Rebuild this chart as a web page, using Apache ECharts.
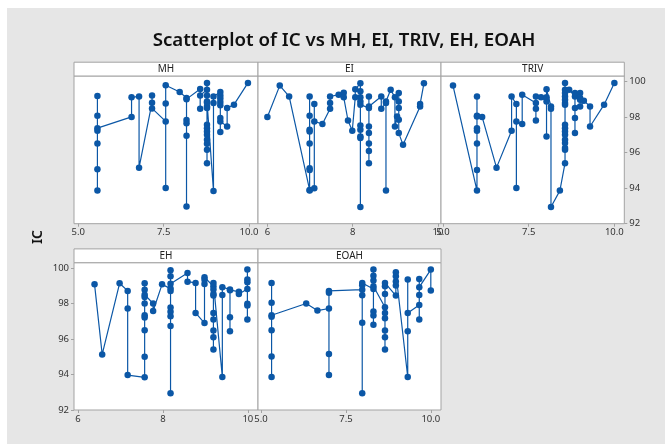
<!DOCTYPE html>
<html>
<head>
<meta charset="utf-8">
<script src="https://cdn.jsdelivr.net/npm/echarts@6/dist/echarts.min.js"></script>
<style>
  html, body { margin: 0; padding: 0; background: #fff; }
  #main { width: 665px; height: 444px; }
</style>
</head>
<body>
<div id="main"></div>
<script>
var chartDom = document.getElementById('main');
var myChart = echarts.init(chartDom);
var option;

// data, in the order the lines connect them
const mhX = [5.56,5.56,5.56,5.56,5.56,5.56,5.56, 6.56,6.56, 6.78,6.78, 7.16,7.16,7.16, 7.56,7.56,7.56,7.56, 7.97,
  8.17,8.17,8.17,8.17,8.17,8.17, 8.57,8.57,8.57,
  8.77,8.77,8.77,8.77,8.77,8.77,8.77,8.77,8.77,8.77,8.77,8.77,8.77,8.77,8.77,
  8.96,8.96,8.96, 9.16,9.16,9.16,9.16,9.16,9.16,9.16,9.16, 9.36,9.36, 9.56, 9.97];
const mhIC = [99.17,98.06,97.22,96.51,95.06,93.86,97.37, 98.0,99.1, 99.15,95.15, 98.8,99.2,98.48, 97.75,94.0,98.75,99.78, 99.4,
  99.07,92.96,96.94,97.64,97.83,99.0, 99.57,98.46,99.21,
  99.53,99.91,99.21,98.59,98.5,97.56,97.37,97.18,97.0,96.72,96.49,96.15,95.4,98.87,98.8,
  93.84,98.78,99.15, 99.4,99.21,99.03,98.84,98.65,97.15,97.94,97.75, 97.46,98.5, 98.69, 99.91];

const eiX = [6.0, 6.29, 6.51, 6.99,6.99,6.99,6.99,6.99,6.99,6.99,6.99,6.99, 7.1,7.1,7.1, 7.29, 7.47,7.47,7.47,
  7.67, 7.79,7.79, 7.89, 7.99, 8.06,8.06, 8.18,8.18,8.18,8.18,8.18,8.18,8.18,8.18,8.18,8.18,
  8.38,8.38,8.38,8.38,8.38,8.38,8.38,8.38, 8.67,8.67, 8.78,8.78,8.78, 8.89, 8.99,8.99, 9.04,
  9.08,9.08,9.08,9.08,9.08, 9.18, 9.58,9.58, 9.67];
const eiIC = [98.0, 99.76, 99.15, 93.9,99.15,98.07,97.28,97.18,96.51,95.12,95.02,93.86, 93.99,98.72,97.75, 97.6, 98.46,98.78,99.15,
  99.25, 99.36,99.1, 97.8, 97.22, 99.1,99.55, 99.89,99.44,99.1,98.87,97.52,97.28,96.9,96.81,92.94,98.69,
  98.5,97.46,97.09,96.51,96.09,95.4,99.15,98.59, 99.15,98.46, 98.78,93.86,98.87, 99.53, 99.1,97.46, 98.03,
  97.84,99.34,98.87,98.5,97.09, 96.43, 98.59,98.72, 99.89];

const trivX = [5.29, 5.99,5.99,5.99,5.99,5.99,5.99,5.99,5.99, 6.14, 6.56, 7.0,7.0, 7.14,7.14,7.14, 7.31,7.31,
  7.71,7.71,7.71,7.71, 7.86, 8.02,8.02,8.02,8.02, 8.15,8.15,8.15, 8.41,
  8.56,8.56,8.56,8.56,8.56,8.56,8.56,8.56,8.56,8.56,8.56,8.56,8.56,8.56,8.56,8.56,
  8.68, 8.85,8.85,8.85,8.85,8.85, 9.0,9.0,9.0,9.0, 9.11, 9.29,9.29, 9.7, 10.0];
const trivIC = [99.76, 93.86,99.15,98.07,97.37,97.22,96.51,95.02,98.03, 98.0, 95.15, 97.22,99.15, 98.72,94.0,97.75, 97.6,99.25,
  98.78,97.8,98.46,99.15, 99.1, 98.87,96.9,99.1,99.55, 98.59,98.46,92.94, 93.86,
  95.4,96.15,96.25,96.53,96.72,97.0,97.18,97.37,97.56,98.69,98.78,98.97,99.15,99.35,99.91,99.53,
  99.53, 99.15,98.5,97.94,97.09,99.35, 99.35,99.06,98.97,98.59, 98.91, 98.59,97.46, 98.69, 99.91];

const ehX = [6.39, 6.57, 6.98, 7.17,7.17,7.17, 7.57,7.57,7.57,7.57,7.57,7.57,7.57,7.57,7.57,7.57, 7.77,7.77, 7.98,
  8.18,8.18,8.18,8.18,8.18,8.18,8.18,8.18,8.18,8.18, 8.58,8.58, 8.77,8.77, 8.98,8.98,8.98,8.98,
  9.19,9.19,9.19,9.19,9.19,9.19,9.19,9.19,9.19,9.19, 9.4,9.4,9.4, 9.58,9.58,9.58,9.58, 9.79,9.79,
  9.99,9.99,9.99,9.99,9.99,9.99,9.99];
const ehIC = [99.08, 95.13, 99.14, 98.71,97.72,93.97, 93.84,95.0,96.5,97.21,97.34,98.0,98.37,99.14,98.78,98.5, 98.0,97.58, 99.08,
  98.84,92.94,96.74,97.28,97.53,97.77,98.71,99.53,99.87,99.12, 99.72,99.23, 99.16,97.47, 96.9,99.1,99.34,99.48,
  98.97,98.79,98.54,98.45,97.47,97.1,96.48,96.1,95.41,99.16, 93.86,98.48,98.92, 98.79,96.44,97.23,98.75, 98.67,98.54,
  98.82,97.98,97.89,97.1,99.2,99.35,99.91];

const eoahX = [5.31,5.31,5.31,5.31,5.31,5.31,5.31, 6.33, 6.66, 7.0,7.0,7.0,7.0,7.0,
  7.98,7.98,7.98,7.98,7.98,7.98, 8.31,8.31,8.31,8.31,8.31,8.31,8.31,8.31,
  8.65,8.65,8.65,8.65,8.65,8.65,8.65,8.65,8.65, 8.97,8.97,8.97,8.97,8.97,
  9.32,9.32,9.32,9.32, 9.66,9.66,9.66,9.66,9.66, 10.0,10.0];
const eoahIC = [99.16,98.05,97.25,96.5,95.02,93.86,97.34, 98.0, 97.6, 97.72,95.15,93.97,98.71,98.6,
  98.78,92.94,96.91,98.46,99.03,99.16, 98.82,97.55,97.33,96.8,99.29,99.57,99.91,98.97,
  97.79,95.41,96.1,96.48,97.17,97.47,98.54,98.97,99.16, 98.45,99.01,99.24,99.53,99.76,
  93.86,96.44,99.35,97.47, 97.92,97.1,98.48,99.38,98.92, 99.91,98.73];

const panelNames = ['MH', 'EI', 'TRIV', 'EH', 'EOAH'];
const icTicks = [92, 94, 96, 98, 100];
const mhTicks = [5, 7.5, 10];
const eiTicks = [6, 8, 10];
const trivTicks = [5, 7.5, 10];
const ehTicks = [6, 8, 10];
const eoahTicks = [5, 7.5, 10];

const xs = [mhX, eiX, trivX, ehX, eoahX];
const ys = [mhIC, eiIC, trivIC, ehIC, eoahIC];
const ticks = [mhTicks, eiTicks, trivTicks, ehTicks, eoahTicks];
const decimals = [1, 0, 1, 0, 1];

// layout (px)
const boxes = [
  { left: 74, top: 76, width: 184, height: 147.7, xmin: 4.874, xmax: 10.264 },
  { left: 258, top: 76, width: 183, height: 147.7, xmin: 5.78, xmax: 10.07 },
  { left: 441, top: 76, width: 183.3, height: 147.7, xmin: 4.94, xmax: 10.29 },
  { left: 74, top: 262.7, width: 184, height: 147.3, xmin: 5.906, xmax: 10.24 },
  { left: 258, top: 262.7, width: 183, height: 147.3, xmin: 4.91, xmax: 10.30 }
];
const headerH = 13.8;
const blue = '#0b57a6';
const border = '#a3a3a3';
const font = 'Noto Sans';

let grids = [], xAxes = [], yAxes = [], series = [], graphics = [];

graphics.push({ type: 'rect', shape: { x: 0, y: 0, width: 665, height: 8 }, style: { fill: '#fff' }, silent: true });
graphics.push({ type: 'rect', shape: { x: 0, y: 0, width: 7, height: 444 }, style: { fill: '#fff' }, silent: true });

for (let i = 0; i < 5; i++) {
  const b = boxes[i];
  grids.push({
    left: b.left, top: b.top, width: b.width, height: b.height,
    show: true, backgroundColor: '#fff', borderColor: border, borderWidth: 1
  });
  const dec = decimals[i];
  xAxes.push({
    type: 'value', gridIndex: i, min: b.xmin, max: b.xmax,
    splitLine: { show: false },
    axisLine: { show: false },
    axisTick: { show: true, length: 3, lineStyle: { color: border }, customValues: ticks[i] },
    axisLabel: {
      customValues: ticks[i], margin: 4, color: '#333', fontSize: 9.5, fontFamily: font,
      formatter: function (v) { return Number(v).toFixed(dec); }
    }
  });
  const showY = (i === 2 || i === 3);
  yAxes.push({
    type: 'value', gridIndex: i, min: 92, max: 100.3, interval: 2,
    position: i === 2 ? 'right' : 'left',
    show: showY,
    splitLine: { show: false },
    axisLine: { show: false },
    axisTick: { show: true, length: 3, lineStyle: { color: border }, customValues: icTicks },
    axisLabel: { customValues: icTicks, margin: 5, color: '#333', fontSize: 9.5, fontFamily: font }
  });
  series.push({
    name: panelNames[i], type: 'line', xAxisIndex: i, yAxisIndex: i,
    data: xs[i].map(function (x, k) { return [x, ys[i][k]]; }),
    symbol: 'circle', symbolSize: 6.5, showSymbol: true, showAllSymbol: true,
    itemStyle: { color: blue },
    lineStyle: { color: blue, width: 1.2 },
    emphasis: { disabled: true },
    animation: false
  });
  graphics.push({
    type: 'rect', silent: true,
    shape: { x: b.left, y: b.top - headerH, width: b.width, height: headerH },
    style: { fill: '#fff', stroke: border, lineWidth: 1 }
  });
  graphics.push({
    type: 'text', silent: true,
    x: b.left + b.width / 2, y: b.top - headerH / 2,
    style: { text: panelNames[i], fill: '#222', font: '10px "' + font + '"', textAlign: 'center', textVerticalAlign: 'middle' }
  });
}

graphics.push({
  type: 'text', silent: true, x: 38, y: 237, rotation: Math.PI / 2,
  style: { text: 'IC', fill: '#111', font: '600 14px "' + font + '"', textAlign: 'center', textVerticalAlign: 'middle' }
});

option = {
  backgroundColor: '#e6e6e6',
  animation: false,
  title: {
    text: 'Scatterplot of IC vs MH, EI, TRIV, EH, EOAH',
    left: 339, top: 26, textAlign: 'center',
    textStyle: { fontFamily: font, fontSize: 18.7, fontWeight: 600, color: '#111' }
  },
  grid: grids,
  xAxis: xAxes,
  yAxis: yAxes,
  series: series,
  graphic: graphics
};

option && myChart.setOption(option);
</script>
</body>
</html>
